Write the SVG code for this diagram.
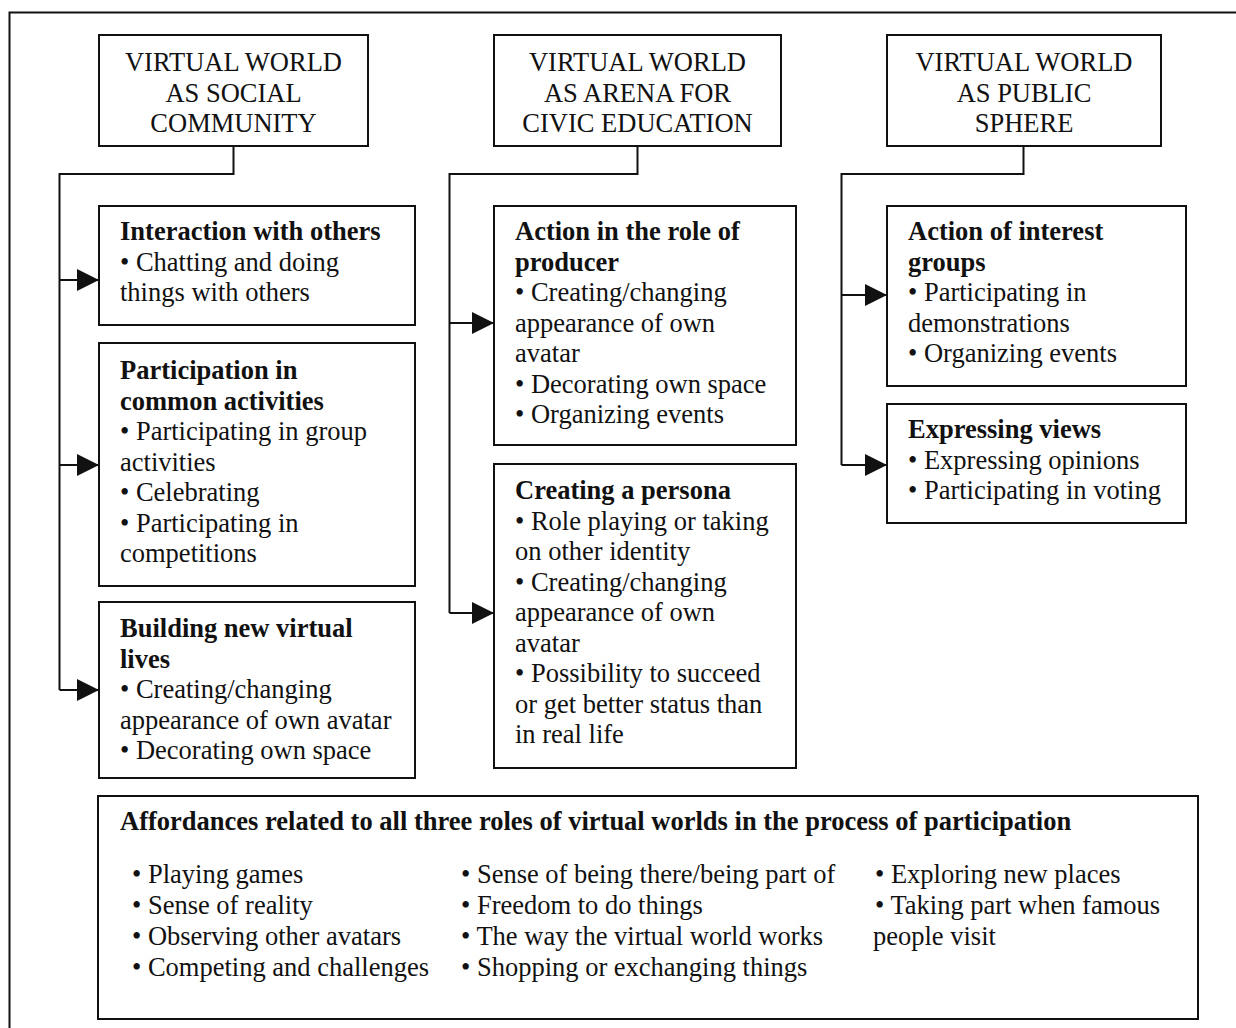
<svg xmlns="http://www.w3.org/2000/svg" width="1236" height="1028" viewBox="0 0 1236 1028">
<defs>
<style>
.box{fill:#fff;stroke:#111;stroke-width:2}
.ln{fill:none;stroke:#111;stroke-width:2}
.t{font-family:"Liberation Serif","Times New Roman",serif;font-size:26.5px;fill:#111}
.c{text-anchor:middle}
.b{font-weight:bold}
</style>
<marker id="ah" markerUnits="userSpaceOnUse" markerWidth="22" markerHeight="22" viewBox="0 0 20 20" refX="20" refY="10" orient="auto">
<path d="M0,0 L20,10 L0,20 Z" fill="#111"/>
</marker>
</defs>
<rect width="1236" height="1028" fill="#fff"/>
<path class="ln" d="M9.5,1028 V12.5 H1236"/>

<g id="connectors">
<path class="ln" d="M233.5,146 V174 H59.5 V690"/>
<path class="ln" d="M59.5,280 H99" marker-end="url(#ah)"/>
<path class="ln" d="M59.5,465 H99" marker-end="url(#ah)"/>
<path class="ln" d="M59.5,690 H99" marker-end="url(#ah)"/>
<path class="ln" d="M637.5,146 V174 H449.5 V613"/>
<path class="ln" d="M449.5,323 H494" marker-end="url(#ah)"/>
<path class="ln" d="M449.5,613 H494" marker-end="url(#ah)"/>
<path class="ln" d="M1023.5,146 V174 H841.5 V465"/>
<path class="ln" d="M841.5,295 H887" marker-end="url(#ah)"/>
<path class="ln" d="M841.5,465 H887" marker-end="url(#ah)"/>
</g>

<g id="h1">
<rect class="box" x="99" y="35" width="269" height="111"/>
<text class="t c" x="233.5" y="71">VIRTUAL WORLD</text>
<text class="t c" x="233.5" y="102">AS SOCIAL</text>
<text class="t c" x="233.5" y="132">COMMUNITY</text>
</g>
<g id="h2">
<rect class="box" x="494" y="35" width="287" height="111"/>
<text class="t c" x="637.5" y="71">VIRTUAL WORLD</text>
<text class="t c" x="637.5" y="102">AS ARENA FOR</text>
<text class="t c" x="637.5" y="132">CIVIC EDUCATION</text>
</g>
<g id="h3">
<rect class="box" x="887" y="35" width="274" height="111"/>
<text class="t c" x="1024" y="71">VIRTUAL WORLD</text>
<text class="t c" x="1024" y="102">AS PUBLIC</text>
<text class="t c" x="1024" y="132">SPHERE</text>
</g>

<g id="n-interaction">
<rect class="box" x="99" y="206" width="316" height="119"/>
<text class="t b" x="120" y="240">Interaction with others</text>
<text class="t" x="120" y="270.5">• Chatting and doing</text>
<text class="t" x="120" y="301">things with others</text>
</g>
<g id="n-participation">
<rect class="box" x="99" y="343" width="316" height="243"/>
<text class="t b" x="120" y="379">Participation in</text>
<text class="t b" x="120" y="409.5">common activities</text>
<text class="t" x="120" y="440">• Participating in group</text>
<text class="t" x="120" y="470.5">activities</text>
<text class="t" x="120" y="501">• Celebrating</text>
<text class="t" x="120" y="531.5">• Participating in</text>
<text class="t" x="120" y="562">competitions</text>
</g>
<g id="n-building">
<rect class="box" x="99" y="602" width="316" height="176"/>
<text class="t b" x="120" y="637">Building new virtual</text>
<text class="t b" x="120" y="667.5">lives</text>
<text class="t" x="120" y="698">• Creating/changing</text>
<text class="t" x="120" y="728.5">appearance of own avatar</text>
<text class="t" x="120" y="759">• Decorating own space</text>
</g>

<g id="n-producer">
<rect class="box" x="494" y="206" width="302" height="239"/>
<text class="t b" x="515" y="240">Action in the role of</text>
<text class="t b" x="515" y="270.5">producer</text>
<text class="t" x="515" y="301">• Creating/changing</text>
<text class="t" x="515" y="331.5">appearance of own</text>
<text class="t" x="515" y="362">avatar</text>
<text class="t" x="515" y="392.5">• Decorating own space</text>
<text class="t" x="515" y="423">• Organizing events</text>
</g>
<g id="n-persona">
<rect class="box" x="494" y="464" width="302" height="304"/>
<text class="t b" x="515" y="499">Creating a persona</text>
<text class="t" x="515" y="529.5">• Role playing or taking</text>
<text class="t" x="515" y="560">on other identity</text>
<text class="t" x="515" y="590.5">• Creating/changing</text>
<text class="t" x="515" y="621">appearance of own</text>
<text class="t" x="515" y="651.5">avatar</text>
<text class="t" x="515" y="682">• Possibility to succeed</text>
<text class="t" x="515" y="712.5">or get better status than</text>
<text class="t" x="515" y="743">in real life</text>
</g>

<g id="n-interest">
<rect class="box" x="887" y="206" width="299" height="180"/>
<text class="t b" x="908" y="240">Action of interest</text>
<text class="t b" x="908" y="270.5">groups</text>
<text class="t" x="908" y="301">• Participating in</text>
<text class="t" x="908" y="331.5">demonstrations</text>
<text class="t" x="908" y="362">• Organizing events</text>
</g>
<g id="n-views">
<rect class="box" x="887" y="404" width="299" height="119"/>
<text class="t b" x="908" y="438">Expressing views</text>
<text class="t" x="908" y="468.5">• Expressing opinions</text>
<text class="t" x="908" y="499">• Participating in voting</text>
</g>

<g id="n-affordances">
<rect class="box" x="98" y="796" width="1100" height="223"/>
<text class="t b" x="120" y="830">Affordances related to all three roles of virtual worlds in the process of participation</text>
<text class="t" x="132" y="883">• Playing games</text>
<text class="t" x="132" y="914">• Sense of reality</text>
<text class="t" x="132" y="945">• Observing other avatars</text>
<text class="t" x="132" y="976">• Competing and challenges</text>
<text class="t" x="461" y="883">• Sense of being there/being part of</text>
<text class="t" x="461" y="914">• Freedom to do things</text>
<text class="t" x="461" y="945">• The way the virtual world works</text>
<text class="t" x="461" y="976">• Shopping or exchanging things</text>
<text class="t" x="875" y="883">• Exploring new places</text>
<text class="t" x="875" y="914">• Taking part when famous</text>
<text class="t" x="873" y="945">people visit</text>
</g>
</svg>
